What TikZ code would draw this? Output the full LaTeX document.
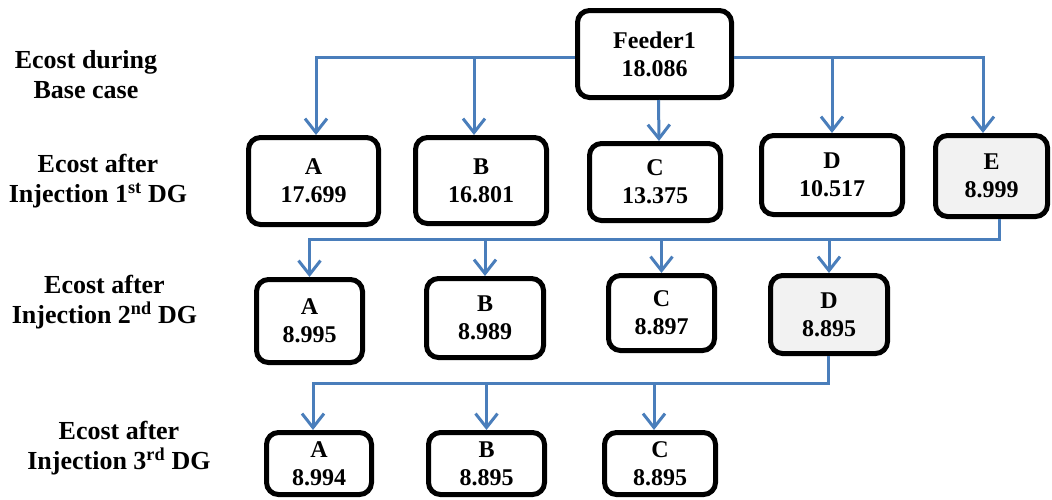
\documentclass[tikz,border=0pt]{standalone}
\usepackage{fontspec}
\setmainfont{Liberation Serif}
\usetikzlibrary{arrows.meta,positioning}
\definecolor{lineblue}{RGB}{74,126,187}
\definecolor{boxgray}{RGB}{242,242,242}

\begin{document}
\begin{tikzpicture}[x=1pt,y=-1pt,
  box/.style={draw,line width=5pt,rounded corners=12pt,align=center,inner sep=0pt,
    font=\fontsize{24}{28}\selectfont\bfseries},
  chosen/.style={box,fill=boxgray},
  caption/.style={align=center,font=\fontsize{26}{30}\selectfont\bfseries},
  conn/.style={draw=lineblue,line width=3pt,-{Straight Barb[length=14pt,width=22pt]}}]
  \useasboundingbox (0,0) rectangle (1052,499);

  % row captions
  \node[caption] (cap0) at (86,75) {Ecost during\\Base case};
  \node[caption] (cap1) at (98,181) {Ecost after\\Injection 1\textsuperscript{st} DG};
  \node[caption] (cap2) at (104.5,302) {Ecost after\\Injection 2\textsuperscript{nd} DG};
  \node[caption] (cap3) at (119,448) {Ecost after\\Injection 3\textsuperscript{rd} DG};

  % feeder
  \node[box,minimum width=154,minimum height=87] (fd) at (654.5,54) {Feeder1\\18.086};

  % first DG
  \node[box,minimum width=130,minimum height=87] (a1) at (313.5,181) {A\\17.699};
  \node[box,minimum width=131,minimum height=86] (b1) at (481,180.5) {B\\16.801};
  \node[box,minimum width=131,minimum height=77] (c1) at (655,182) {C\\13.375};
  \node[box,minimum width=141,minimum height=79] (d1) at (832,175) {D\\10.517};
  \node[chosen,minimum width=112,minimum height=81] (e1) at (991.5,176) {E\\8.999};

  % second DG
  \node[box,minimum width=106,minimum height=83] (a2) at (309.5,321) {A\\8.995};
  \node[box,minimum width=117,minimum height=79] (b2) at (485,318) {B\\8.989};
  \node[box,minimum width=106,minimum height=75] (c2) at (661.5,313) {C\\8.897};
  \node[chosen,minimum width=117,minimum height=78] (d2) at (829,314.5) {D\\8.895};

  % third DG
  \node[box,minimum width=105,minimum height=62] (a3) at (319,463.5) {A\\8.994};
  \node[box,minimum width=116,minimum height=62] (b3) at (486.5,463.5) {B\\8.895};
  \node[box,minimum width=111,minimum height=62] (c3) at (660,463.5) {C\\8.895};

  % connectors
  \coordinate (bus1) at (654,57);
  \draw[conn] (fd.west |- bus1) -| ([xshift=2.5]a1.north);
  \draw[conn] ([xshift=-7]b1.north |- bus1) -- ([xshift=-7]b1.north);
  \draw[conn] ([xshift=4]fd.south) -- ([xshift=4]c1.north);
  \draw[conn] (d1.north |- bus1) -- (d1.north);
  \draw[conn] (fd.east |- bus1) -| ([xshift=-8.5]e1.north);

  \coordinate (bus2) at (999,239);
  \draw[conn] (e1.south -| bus2) -- (bus2) -| (a2.north);
  \draw[conn] (b2.north |- bus2) -- (b2.north);
  \draw[conn] (c2.north |- bus2) -- (c2.north);
  \draw[conn] (d2.north |- bus2) -- (d2.north);

  \coordinate (bus3) at (828,383);
  \draw[conn] (d2.south -| bus3) -- (bus3) -| ([xshift=-6]a3.north);
  \draw[conn] (b3.north |- bus3) -- (b3.north);
  \draw[conn] ([xshift=-6]c3.north |- bus3) -- ([xshift=-6]c3.north);
\end{tikzpicture}
\end{document}
